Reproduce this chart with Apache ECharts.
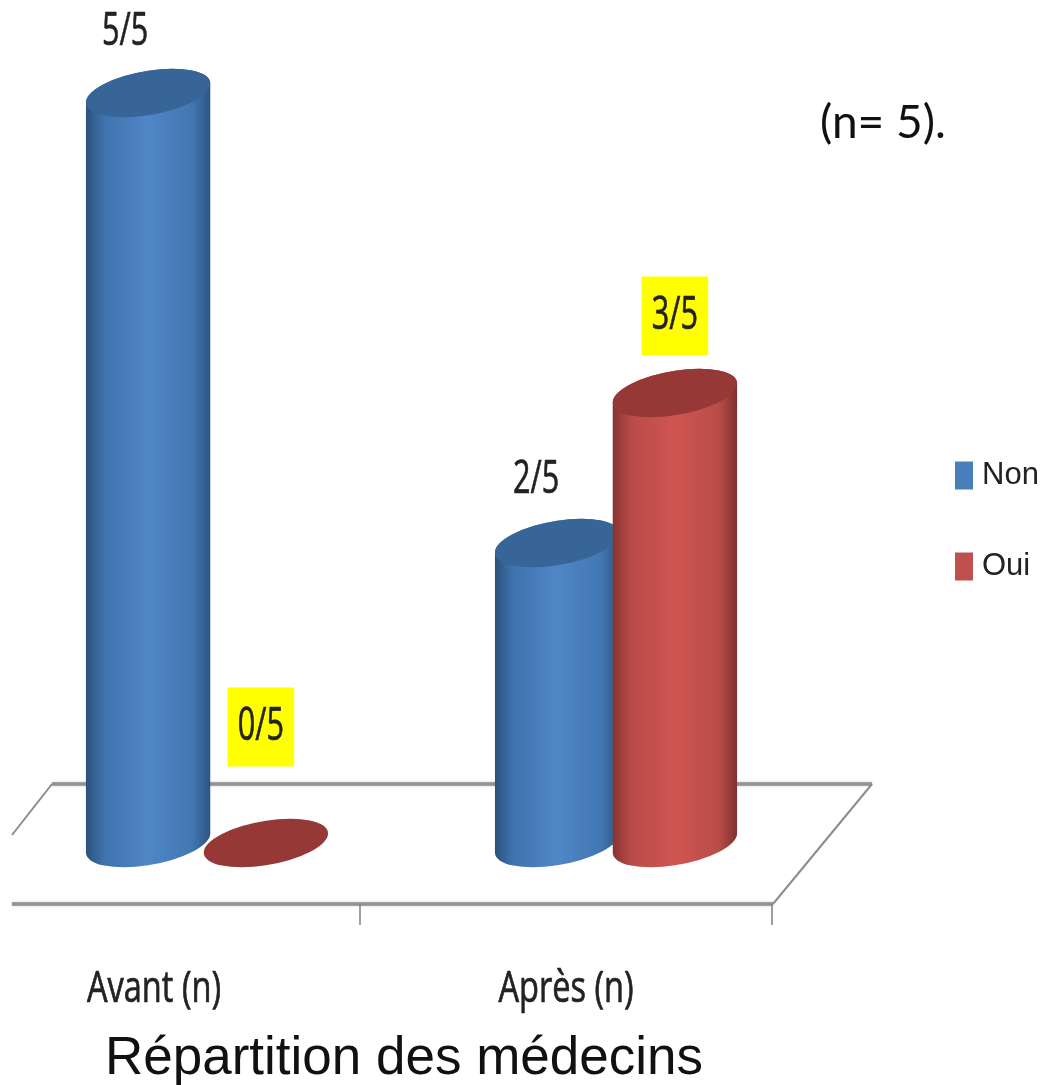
<!DOCTYPE html>
<html lang="fr">
<head>
<meta charset="utf-8">
<title>Répartition des médecins</title>
<style>
  html, body { margin: 0; padding: 0; background: #fff; }
  #chart { width: 1043px; height: 1085px; }
</style>
<script src="https://cdn.jsdelivr.net/npm/echarts@6/dist/echarts.min.js"></script>
</head>
<body>
<div id="chart"></div>
<script>
// Values
const categories = ['Avant (n)', 'Après (n)'];
const nonValues = [5, 2];
const ouiValues = [0, 3];
const totalDoctors = 5;
const highlightedSeries = 'Oui';

// Hand-placed value labels: offset from the top centre of each cylinder
const nonLabelShift = [[-23, -61], [-21, -63]];
const ouiLabelShift = [[-5, -116], [0, -77]];

const LABEL_FONT = "'Open Sans', sans-serif";
const TEXT_COLOR = '#222222';

// Cylinder end caps are ellipses tilted upward to the right
const CAP_A = 63, CAP_B = 22, CAP_TILT_DEG = 10;
const tilt = CAP_TILT_DEG * Math.PI / 180;
const extX = Math.sqrt(CAP_A * CAP_A * Math.cos(tilt) ** 2 + CAP_B * CAP_B * Math.sin(tilt) ** 2);
const tangentDy = (CAP_A * CAP_A - CAP_B * CAP_B) * Math.sin(tilt) * Math.cos(tilt) / extX;

const palette = {
  Non: {
    legend: '#4a7ebb', cap: '#376598',
    body: ['#2b5079', '#3f73ae', '#4f86c6', '#4177b2', '#2c5280']
  },
  Oui: {
    legend: '#c0504d', cap: '#953836',
    body: ['#843230', '#b84b48', '#cf5552', '#b94c49', '#7c2f2d']
  }
};

function capPath(cx, cy) {
  const arc = `A ${CAP_A} ${CAP_B} ${-CAP_TILT_DEG} 0 0`;
  return `M ${cx - extX} ${cy + tangentDy} ${arc} ${cx + extX} ${cy - tangentDy} ` +
         `${arc} ${cx - extX} ${cy + tangentDy} Z`;
}

function bodyPath(cx, yTop, yBase) {
  const arc = `A ${CAP_A} ${CAP_B} ${-CAP_TILT_DEG} 0 0`;
  return `M ${cx - extX} ${yTop + tangentDy} L ${cx - extX} ${yBase + tangentDy} ` +
         `${arc} ${cx + extX} ${yBase - tangentDy} L ${cx + extX} ${yTop - tangentDy} ` +
         `${arc} ${cx - extX} ${yTop + tangentDy} Z`;
}

// Builds one series of 3D-looking cylinders from its values
function cylinderSeries(name, values, shifts, side) {
  const colors = palette[name];
  return {
    name,
    type: 'custom',
    xAxisIndex: 0,
    yAxisIndex: 0,
    itemStyle: { color: colors.legend },
    data: values.map((v, i) => [i, v]),
    encode: { x: 0, y: 1 },
    renderItem(params, api) {
      const i = api.value(0);
      const v = api.value(1);
      const top = api.coord([i, v]);
      const base = api.coord([i, 0]);
      const cx = top[0] + side * api.size([1, 0])[0] * 0.144;
      const children = [];
      if (v > 0) {
        children.push({
          type: 'path',
          shape: { pathData: bodyPath(cx, top[1], base[1]) },
          style: {
            fill: new echarts.graphic.LinearGradient(0, 0, 1, 0, [
              { offset: 0, color: colors.body[0] },
              { offset: 0.15, color: colors.body[1] },
              { offset: 0.5, color: colors.body[2] },
              { offset: 0.85, color: colors.body[3] },
              { offset: 1, color: colors.body[4] }
            ])
          }
        });
      }
      children.push({
        type: 'path',
        shape: { pathData: capPath(cx, top[1]) },
        style: { fill: colors.cap }
      });
      const marked = name === highlightedSeries;
      children.push({
        type: 'text',
        x: cx + shifts[i][0],
        y: top[1] + shifts[i][1],
        scaleX: 0.68,
        style: {
          text: `${v}/${totalDoctors}`,
          font: `45px ${LABEL_FONT}`,
          fill: TEXT_COLOR,
          stroke: TEXT_COLOR,
          lineWidth: 0.7,
          align: 'center',
          verticalAlign: 'middle',
          lineHeight: 45,
          backgroundColor: marked ? '#ffff00' : 'transparent',
          padding: marked ? [17, 15, 17, 15] : 0
        }
      });
      return { type: 'group', children };
    }
  };
}

// Category names under the floor ticks, drawn tall and condensed
const categorySeries = {
  name: 'categories',
  type: 'custom',
  xAxisIndex: 1,
  yAxisIndex: 1,
  silent: true,
  data: categories.map((c, i) => [i, 0]),
  encode: { x: 0, y: 1 },
  renderItem(params, api) {
    const i = api.value(0);
    const at = api.coord([i, 0]);
    return {
      type: 'text',
      x: at[0],
      y: at[1] + 85,
      scaleX: 0.74,
      style: {
        text: categories[i],
        font: `44px ${LABEL_FONT}`,
        fill: TEXT_COLOR,
        stroke: TEXT_COLOR,
        lineWidth: 0.7,
        align: 'center',
        verticalAlign: 'middle'
      }
    };
  }
};

const chart = echarts.init(document.getElementById('chart'), null, { renderer: 'canvas' });

chart.setOption({
  animation: false,
  backgroundColor: '#ffffff',
  title: [
    {
      text: 'Répartition des médecins',
      left: 100,
      top: 1028,
      textStyle: { fontFamily: "'Liberation Sans', Arial, sans-serif", fontSize: 53, fontWeight: 'normal', color: '#111111' }
    },
    {
      text: '(n= 5).',
      left: 815,
      top: 95,
      textStyle: { fontFamily: "Lato, 'Open Sans', sans-serif", fontSize: 46, fontWeight: 'normal', color: '#111111' }
    }
  ],
  legend: {
    orient: 'vertical',
    left: 955,
    top: 460,
    padding: 0,
    itemWidth: 18,
    itemHeight: 28,
    itemGap: 60,
    icon: 'rect',
    data: [
      { name: 'Non', itemStyle: { color: palette.Non.legend } },
      { name: 'Oui', itemStyle: { color: palette.Oui.legend } }
    ],
    textStyle: { fontFamily: "'Liberation Sans', sans-serif", fontSize: 31, lineHeight: 28, color: TEXT_COLOR, padding: [0, 0, 0, 4] }
  },
  grid: [
    { left: 2.5, width: 818, top: 93, height: 750, outerBoundsMode: 'none' },
    { left: -52, width: 824, top: 804, height: 100, outerBoundsMode: 'none' }
  ],
  xAxis: [
    { type: 'category', gridIndex: 0, data: categories, show: false },
    {
      type: 'category',
      gridIndex: 1,
      data: categories,
      axisLine: { show: false },
      axisTick: { show: true, length: 21, lineStyle: { color: '#808080', width: 1.5 } },
      axisLabel: { show: false }
    }
  ],
  yAxis: [
    { type: 'value', gridIndex: 0, min: 0, max: 5, show: false },
    { type: 'value', gridIndex: 1, min: 0, max: 1, show: false }
  ],
  // Floor of the 3D plot, behind the cylinders
  graphic: [
    {
      type: 'polyline',
      z: -1,
      shape: { points: [[52, 784], [872, 784]] },
      style: { stroke: '#929292', lineWidth: 3.5, fill: null, shadowBlur: 2, shadowColor: 'rgba(120,120,120,0.5)' }
    },
    {
      type: 'polyline',
      z: -1,
      shape: { points: [[773, 904], [12, 904]] },
      style: { stroke: '#929292', lineWidth: 3.5, fill: null, shadowBlur: 2, shadowColor: 'rgba(120,120,120,0.5)' }
    },
    {
      type: 'polyline',
      z: -1,
      shape: { points: [[12, 835], [52, 784]] },
      style: { stroke: '#8c8c8c', lineWidth: 2, fill: null }
    },
    {
      type: 'polyline',
      z: -1,
      shape: { points: [[872, 784], [773, 904]] },
      style: { stroke: '#8c8c8c', lineWidth: 2, fill: null }
    }
  ],
  series: [
    cylinderSeries('Non', nonValues, nonLabelShift, -1),
    cylinderSeries('Oui', ouiValues, ouiLabelShift, 1),
    categorySeries
  ]
});
</script>
</body>
</html>
